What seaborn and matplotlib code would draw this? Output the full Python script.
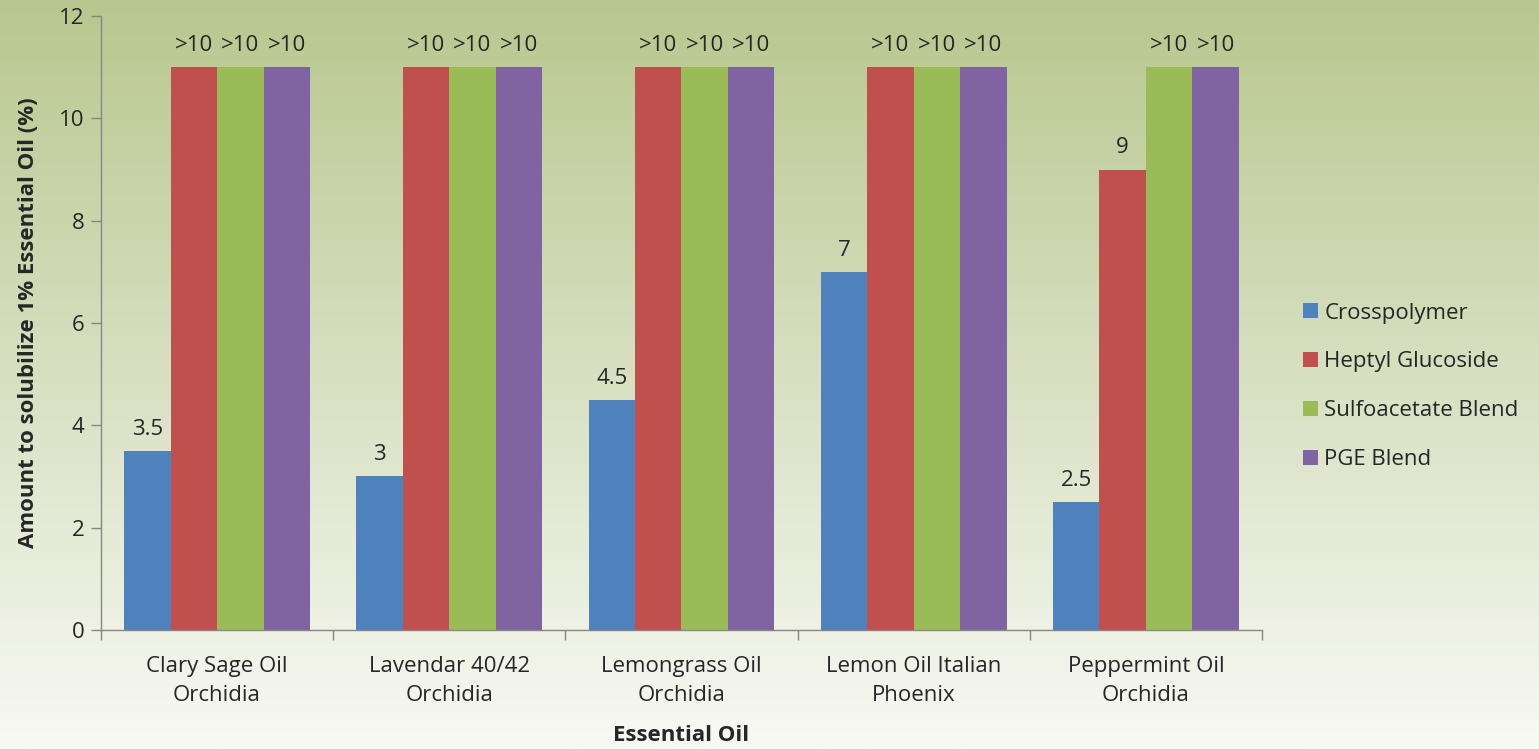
import numpy as np
import pandas as pd
import matplotlib
matplotlib.use('Agg')
import matplotlib.pyplot as plt
import seaborn as sns

# data
oils = ["Clary Sage Oil\nOrchidia", "Lavendar 40/42\nOrchidia", "Lemongrass Oil\nOrchidia",
        "Lemon Oil Italian\nPhoenix", "Peppermint Oil\nOrchidia"]
series = ["Crosspolymer", "Heptyl Glucoside", "Sulfoacetate Blend", "PGE Blend"]
crosspolymer = [3.5, 3, 4.5, 7, 2.5]
heptyl = [11, 11, 11, 11, 9]
sulfoacetate = [11, 11, 11, 11, 11]
pge = [11, 11, 11, 11, 11]
label_crosspolymer = ["3.5", "3", "4.5", "7", "2.5"]
label_heptyl = [">10", ">10", ">10", ">10", "9"]
label_sulfoacetate = [">10", ">10", ">10", ">10", ">10"]
label_pge = [">10", ">10", ">10", ">10", ">10"]
colors = ["#4f81bd", "#c0504d", "#9bbb59", "#8064a2"]

df = pd.DataFrame({
    "oil": oils * 4,
    "series": np.repeat(series, len(oils)),
    "value": crosspolymer + heptyl + sulfoacetate + pge,
})

sns.set_style("white")
plt.rcParams['font.family'] = ['Open Sans', 'DejaVu Sans']
FS = 16

fig = plt.figure(figsize=(15.39, 7.49), dpi=100)

# background gradient
bg = fig.add_axes([0, 0, 1, 1], zorder=-1)
top = np.array([184, 199, 143]) / 255
bottom = np.array([248, 249, 244]) / 255
t = np.linspace(0, 1, 256)[:, None]
grad = top[None, :] * (1 - t) + bottom[None, :] * t
bg.imshow(grad[:, None, :], aspect='auto', extent=[0, 1, 0, 1])
bg.axis('off')

ax = fig.add_axes([0.0656, 0.1589, 0.7544, 0.8197])
ax.patch.set_alpha(0)
sns.barplot(data=df, x="oil", y="value", hue="series", palette=colors,
            width=0.8, saturation=1, ax=ax, edgecolor='none', linewidth=0)

for cont, labs in zip(ax.containers, [label_crosspolymer, label_heptyl, label_sulfoacetate, label_pge]):
    ax.bar_label(cont, labels=labs, padding=8, fontsize=FS)

ax.set_ylim(0, 12)
ax.set_xlim(-0.5, len(oils) - 0.5)
ax.set_yticks(range(0, 13, 2))
ax.tick_params(axis='y', labelsize=FS, length=7, width=1, color='#868686', left=True, pad=5)
ax.tick_params(axis='x', which='major', labelsize=FS, length=0, pad=19)
ax.set_xticks(np.arange(-0.5, len(oils), 1), minor=True)
ax.tick_params(axis='x', which='minor', length=7, width=1, color='#868686', bottom=True)
for lab in ax.get_xticklabels():
    lab.set_linespacing(1.45)
for s in ['top', 'right']:
    ax.spines[s].set_visible(False)
for s in ['left', 'bottom']:
    ax.spines[s].set_color('#868686')
    ax.spines[s].set_linewidth(1)

ax.set_ylabel("Amount to solubilize 1% Essential Oil (%)", fontsize=FS, fontweight='bold', labelpad=14)
ax.set_xlabel("Essential Oil", fontsize=FS, fontweight='bold', labelpad=14)

ax.legend(loc='center left', bbox_to_anchor=(1.028, 0.397), frameon=False, fontsize=FS,
          borderaxespad=0, handlelength=0.65, handleheight=0.65, handletextpad=0.3,
          labelspacing=1.25)

fig.savefig("out.png", dpi=100)
